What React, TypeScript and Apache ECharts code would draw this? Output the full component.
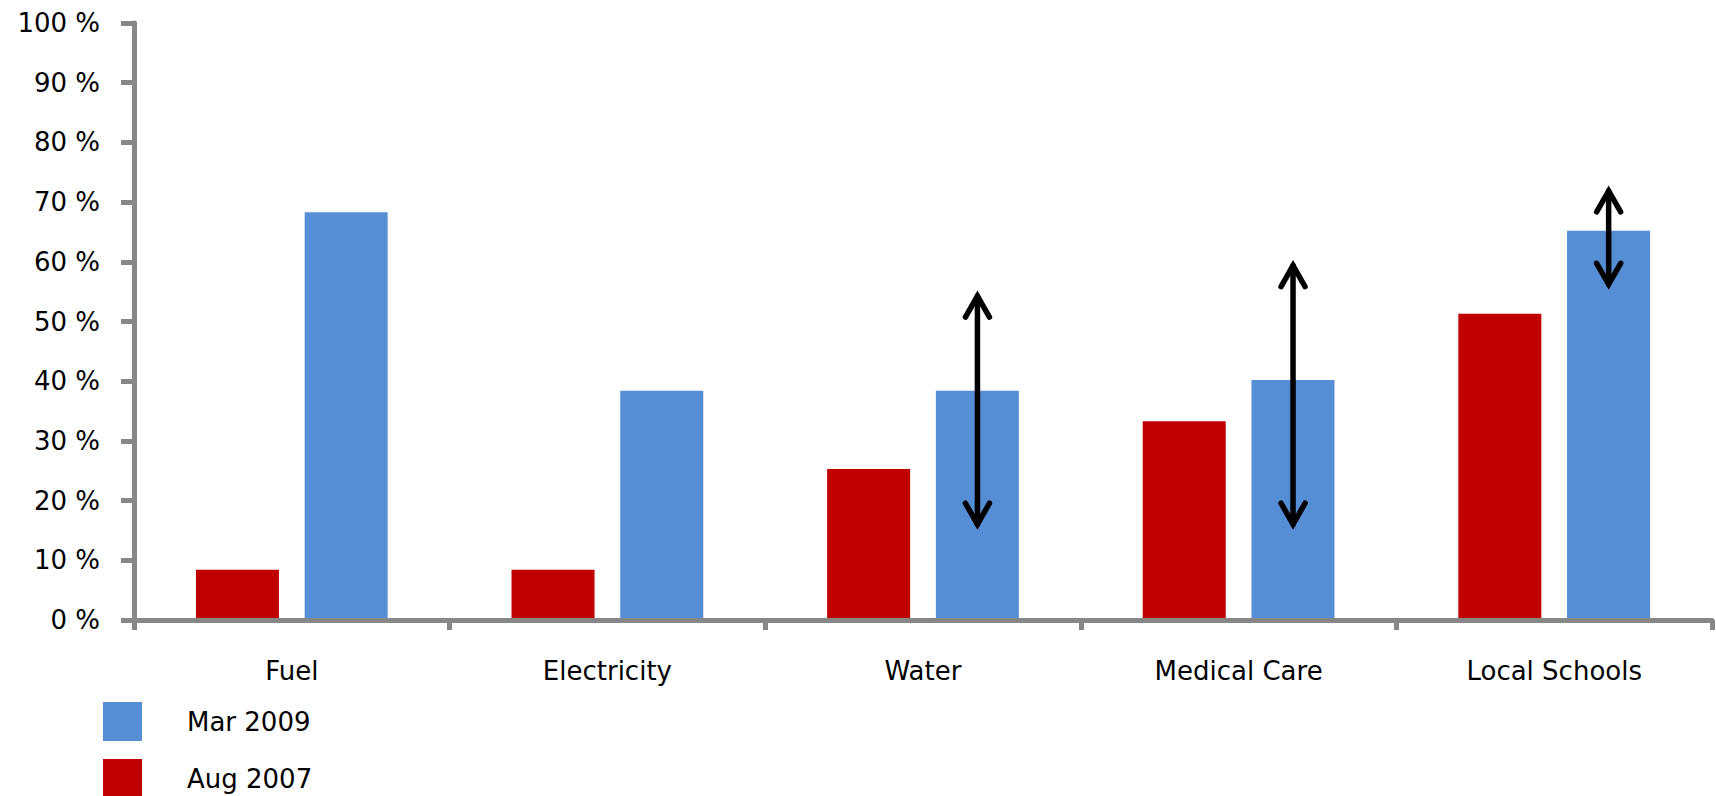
import React, { useEffect, useRef } from "react";
import * as echarts from "echarts";

const categories = ["Fuel", "Electricity", "Water", "Medical Care", "Local Schools"];
const aug2007 = [8.4, 8.4, 25.3, 33.3, 51.3];
const mar2009 = [68.3, 38.4, 38.4, 40.2, 65.2];
const arrowCategories = ["Water", "Medical Care", "Local Schools"];
const arrowLow = [15.2, 15.2, 55.4];
const arrowHigh = [55.1, 60.2, 72.7];

const FONT = "DejaVu Sans";
const AXIS_GRAY = "#878787";

export default function App() {
  const ref = useRef<HTMLDivElement>(null);
  useEffect(() => {
    if (!ref.current) return;
    const chart = echarts.init(ref.current, undefined, { renderer: "svg" });
    const arrowData = arrowCategories.map((c, i) => [categories.indexOf(c), arrowLow[i], arrowHigh[i]]);
    const legendBase = {
      orient: "vertical",
      left: 103,
      padding: 0,
      itemWidth: 39,
      itemHeight: 39,
      icon: "rect",
      textStyle: { fontFamily: FONT, fontSize: 26, color: "#000", padding: [0, 0, 0, 40] },
    };
    chart.setOption({
      animation: false,
      backgroundColor: "#fff",
      grid: { left: 134, right: 4, top: 23, bottom: 176, containLabel: false },
      legend: [
        { ...legendBase, data: ["Mar 2009"], top: 702 },
        { ...legendBase, data: ["Aug 2007"], top: 759 },
      ],
      xAxis: {
        type: "category",
        data: categories,
        z: 3,
        axisLine: { show: true, lineStyle: { color: AXIS_GRAY, width: 5 } },
        axisTick: { show: true, length: 10, alignWithLabel: false, lineStyle: { color: AXIS_GRAY, width: 5 } },
        axisLabel: { fontFamily: FONT, fontSize: 26, color: "#000", margin: 38 },
        splitLine: { show: false },
      },
      yAxis: {
        type: "value",
        min: 0,
        max: 100,
        interval: 10,
        z: 3,
        axisLine: { show: true, lineStyle: { color: AXIS_GRAY, width: 5 } },
        axisTick: { show: true, length: 13, lineStyle: { color: AXIS_GRAY, width: 5 } },
        axisLabel: { fontFamily: FONT, fontSize: 26, color: "#000", margin: 34, formatter: "{value} %" },
        splitLine: { show: false },
      },
      series: [
        {
          name: "Aug 2007",
          type: "bar",
          data: aug2007,
          barWidth: 83,
          barGap: "31%",
          itemStyle: { color: "#C00000" },
        },
        {
          name: "Mar 2009",
          type: "bar",
          data: mar2009,
          barWidth: 83,
          barGap: "31%",
          itemStyle: { color: "#558ED5" },
        },
        {
          name: "arrows",
          type: "custom",
          z: 10,
          data: arrowData,
          encode: { x: 0, y: [1, 2] },
          renderItem: (params: any, api: any) => {
            const idx = api.value(0);
            const lo = api.coord([idx, api.value(1)]);
            const hi = api.coord([idx, api.value(2)]);
            const band = api.size([1, 0])[0];
            const x = lo[0] + band * 0.1725;
            const hw = 12;
            const len = 26;
            const off = 5;
            const st = { stroke: "#000", lineWidth: 5.5, lineCap: "round", lineJoin: "miter", fill: null };
            return {
              type: "group",
              children: [
                { type: "line", shape: { x1: x, y1: lo[1] - off, x2: x, y2: hi[1] + off }, style: { ...st } },
                {
                  type: "polyline",
                  shape: { points: [[x - hw, hi[1] + len], [x, hi[1] + off], [x + hw, hi[1] + len]] },
                  style: { ...st },
                },
                {
                  type: "polyline",
                  shape: { points: [[x - hw, lo[1] - len], [x, lo[1] - off], [x + hw, lo[1] - len]] },
                  style: { ...st },
                },
              ],
            };
          },
        },
      ],
    });
    return () => chart.dispose();
  }, []);
  return <div ref={ref} style={{ position: "fixed", left: 0, top: 0, width: 1716, height: 796 }} />;
}
